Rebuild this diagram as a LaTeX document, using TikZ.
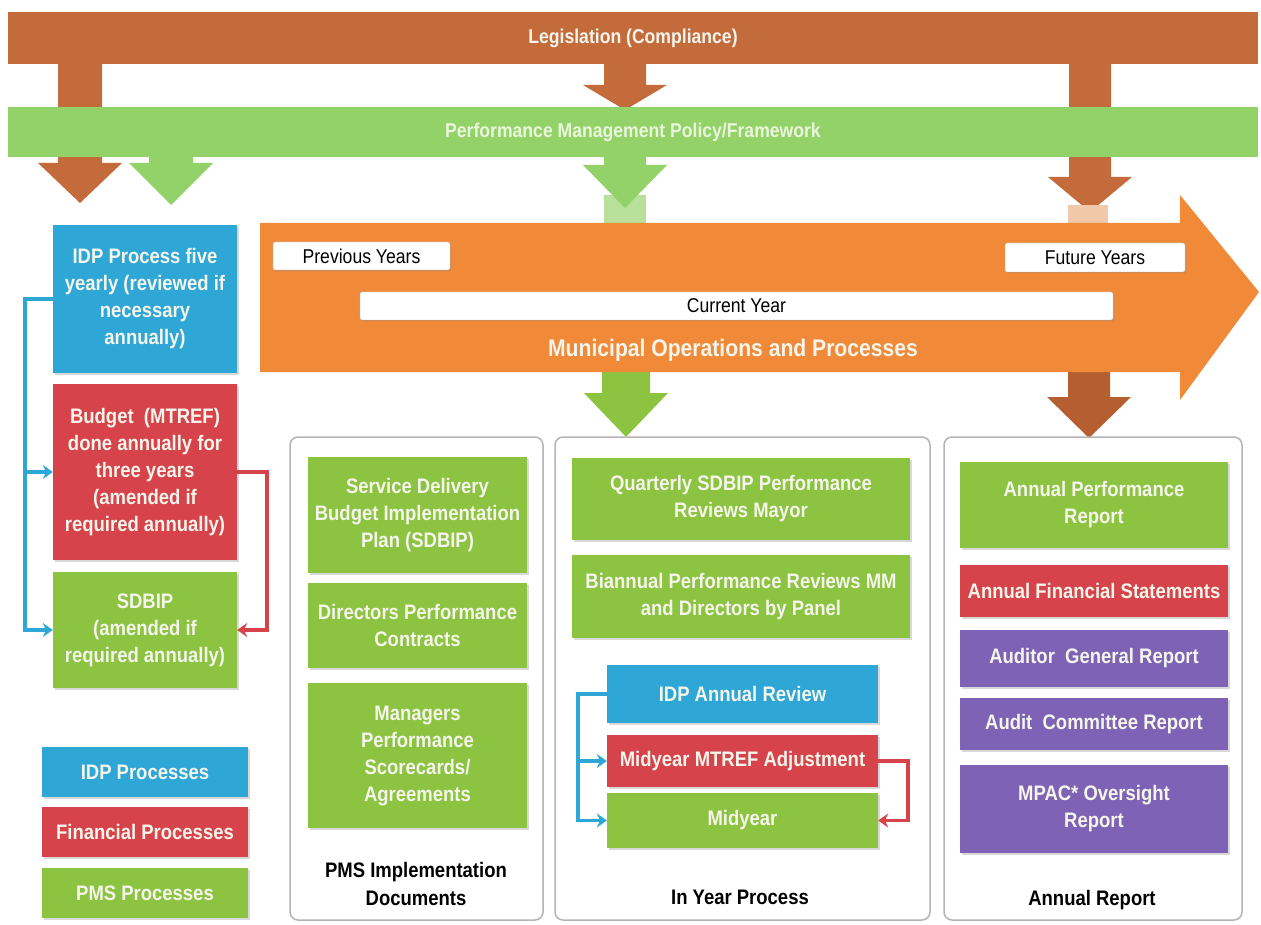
\documentclass[tikz,border=0pt]{standalone}
\usepackage{fontspec}
\setmainfont{Liberation Sans}[FakeStretch=0.88]
\usepackage{tikz}
\usetikzlibrary{arrows.meta, shadows}
\usepackage{xcolor}
\definecolor{legis}{HTML}{C46B3C}
\definecolor{legisdark}{HTML}{B55F30}
\definecolor{pmsbar}{HTML}{93D268}
\definecolor{pmslight}{HTML}{B8E09A}
\definecolor{stempink}{HTML}{F2C8AA}
\definecolor{opsorange}{HTML}{F08A38}
\definecolor{idpblue}{HTML}{2FA7D6}
\definecolor{finred}{HTML}{D7434A}
\definecolor{pmsgreen}{HTML}{8CC341}
\definecolor{auditpurple}{HTML}{7D62B6}
\definecolor{boxtext}{HTML}{F5F5EC}
\definecolor{bartext}{HTML}{EAF6DC}
\definecolor{panelgray}{HTML}{B4B4B4}
\tikzset{
    procbox/.style={
        fill=#1,
        text=boxtext,
        font=\bfseries\fontsize{21}{27}\selectfont,
        align=center,
        inner sep=2pt,
        drop shadow={opacity=0.3, shadow xshift=2pt, shadow yshift=-2pt}
    },
    bar/.style={
        fill=#1,
        font=\bfseries\fontsize{20}{24}\selectfont,
        inner sep=0pt
    },
    yearbox/.style={
        fill=white,
        draw=panelgray,
        rounded corners=2pt,
        font=\fontsize{20}{24}\selectfont,
        inner sep=0pt,
        drop shadow={opacity=0.25, shadow xshift=1.5pt, shadow yshift=-1.5pt}
    },
    panel/.style={
        fill=white,
        draw=panelgray,
        line width=1.5pt,
        rounded corners=8pt
    },
    panellabel/.style={
        font=\bfseries\fontsize{21}{28}\selectfont,
        align=center
    },
    procline/.style={
        draw=#1,
        line width=3.5pt,
        -{Stealth[length=10pt, width=14pt]}
    }
}
\newcommand{\dnarrow}[7]{%
    \fill[#1] (#2-#3,#4) -- (#2+#3,#4) -- (#2+#3,#5) -- (#2+#6,#5)
        -- (#2,#7) -- (#2-#6,#5) -- (#2-#3,#5) -- cycle;}

\begin{document}
\begin{tikzpicture}[x=1pt, y=-1pt]

    \fill[white] (0,0) rectangle (1261,925);
    \useasboundingbox (0,0) rectangle (1261,925);

    \dnarrow{legis}{80}{22}{40}{163}{42}{203}
    \dnarrow{legis}{1090}{21}{40}{177}{42}{212}
    \dnarrow{legis}{625}{21}{50}{85}{42}{110}

    \node[bar=legis, text=boxtext, minimum width=1250pt, minimum height=52pt]
        (law) at (633,38) {Legislation (Compliance)};

    \fill[pmslight] (604,195) rectangle (646,226);
    \fill[stempink] (1068,205) rectangle (1108,226);
    \dnarrow{pmsbar}{171}{22}{140}{163}{42}{205}
    \dnarrow{pmsbar}{625}{21}{140}{165}{42}{208}

    \node[bar=pmsbar, text=bartext, minimum width=1250pt, minimum height=50pt]
        (policy) at (633,132) {Performance Management Policy/Framework};

    \dnarrow{pmsgreen}{626}{24}{365}{393}{42}{437}
    \dnarrow{legisdark}{1089}{21}{365}{397}{42}{438}

    \fill[opsorange] (260,223) -- (1180,223) -- (1180,195) -- (1259,292)
        -- (1180,400) -- (1180,372) -- (260,372) -- cycle;

    \node[yearbox, minimum width=177pt, minimum height=28pt] (prev) at (361.5,256) {Previous Years};
    \node[yearbox, minimum width=180pt, minimum height=29pt] (future) at (1095,257.5) {Future Years};
    \node[yearbox, minimum width=753pt, minimum height=28pt] (current) at (736.5,306) {Current Year};
    \node[text=boxtext, font=\bfseries\fontsize{24}{28}\selectfont] (ops) at (733,350)
        {Municipal Operations and Processes};

    \node[procbox=idpblue, minimum width=184pt, minimum height=148pt] (idp) at (145,299)
        {IDP Process five\\yearly (reviewed if\\necessary\\annually)};
    \node[procbox=finred, minimum width=184pt, minimum height=176pt] (budget) at (145,472)
        {Budget\ \ (MTREF)\\done annually for\\three years\\(amended if\\required annually)};
    \node[procbox=pmsgreen, minimum width=184pt, minimum height=116pt] (sdbip) at (145,630)
        {SDBIP\\(amended if\\required annually)};

    \draw[procline=idpblue] (idp.west) -- ++(-28,0) |- (budget.west);
    \draw[procline=idpblue] (idp.west) -- ++(-28,0) |- (sdbip.west);
    \draw[procline=finred] (budget.east) -- ++(30,0) |- (sdbip.east);

    \node[procbox=idpblue, minimum width=206pt, minimum height=50pt] (keyidp) at (145,772) {IDP Processes};
    \node[procbox=finred, minimum width=206pt, minimum height=50pt] (keyfin) at (145,832) {Financial Processes};
    \node[procbox=pmsgreen, minimum width=206pt, minimum height=50pt] (keypms) at (145,893) {PMS Processes};

    \node[panel, minimum width=253pt, minimum height=483pt] (pnlimpl) at (416.5,678.5) {};
    \node[panel, minimum width=375pt, minimum height=483pt] (pnlyear) at (742.5,678.5) {};
    \node[panel, minimum width=298pt, minimum height=483pt] (pnlannual) at (1093,678.5) {};

    \node[procbox=pmsgreen, minimum width=219pt, minimum height=116pt] (sdbipplan) at (417.5,515)
        {Service Delivery\\Budget Implementation\\Plan (SDBIP)};
    \node[procbox=pmsgreen, minimum width=219pt, minimum height=85pt] (directors) at (417.5,625.5)
        {Directors Performance\\Contracts};
    \node[procbox=pmsgreen, minimum width=219pt, minimum height=145pt] (managers) at (417.5,755.5)
        {Managers\\Performance\\Scorecards/\\Agreements};
    \node[panellabel] (implabel) at (416,884) {PMS Implementation\\Documents};

    \node[procbox=pmsgreen, minimum width=338pt, minimum height=82pt] (quarterly) at (741,499)
        {Quarterly SDBIP Performance\\Reviews Mayor};
    \node[procbox=pmsgreen, minimum width=338pt, minimum height=83pt] (biannual) at (741,596.5)
        {Biannual Performance Reviews MM\\and Directors by Panel};
    \node[procbox=idpblue, minimum width=271pt, minimum height=58pt] (idpreview) at (742.5,694)
        {IDP Annual Review};
    \node[procbox=finred, minimum width=271pt, minimum height=52pt] (mtref) at (742.5,761)
        {Midyear MTREF Adjustment};
    \node[procbox=pmsgreen, minimum width=271pt, minimum height=55pt] (midyear) at (742.5,820.5)
        {Midyear};
    \node[panellabel] (yearlabel) at (740,897) {In Year Process};

    \draw[procline=idpblue] (idpreview.west) -- ++(-29,0) |- (mtref.west);
    \draw[procline=idpblue] (idpreview.west) -- ++(-29,0) |- (midyear.west);
    \draw[procline=finred] (mtref.east) -- ++(30,0) |- (midyear.east);

    \node[procbox=pmsgreen, minimum width=268pt, minimum height=86pt] (apr) at (1094,505)
        {Annual Performance\\Report};
    \node[procbox=finred, minimum width=268pt, minimum height=52pt] (afs) at (1094,591)
        {Annual Financial Statements};
    \node[procbox=auditpurple, minimum width=268pt, minimum height=57pt] (agr) at (1094,658.5)
        {Auditor\ \ General Report};
    \node[procbox=auditpurple, minimum width=268pt, minimum height=52pt] (acr) at (1094,724)
        {Audit\ \ Committee Report};
    \node[procbox=auditpurple, minimum width=268pt, minimum height=88pt] (mpac) at (1094,809)
        {MPAC* Oversight\\Report};
    \node[panellabel] (annuallabel) at (1092,900) {Annual Report};

\end{tikzpicture}
\end{document}
